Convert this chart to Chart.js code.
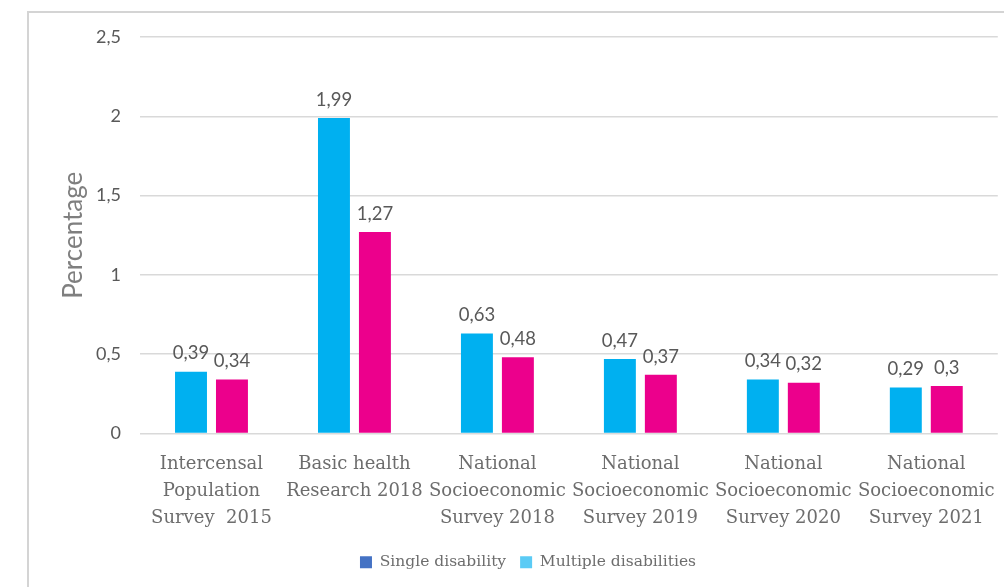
<!DOCTYPE html>
<html>
<head>
<meta charset="utf-8">
<script src="https://cdn.jsdelivr.net/npm/chart.js@4"></script>
<style>
  html, body { margin: 0; padding: 0; background: #fff; }
  #wrap { position: relative; width: 1004px; height: 587px; overflow: hidden; }
  #frame { position: absolute; left: 27px; top: 11px; width: 1100px; height: 700px;
           border-left: 2px solid #d4d4d4; border-top: 2px solid #d4d4d4; pointer-events: none; }
</style>
</head>
<body>
<div id="wrap">
  <canvas id="chart" width="1004" height="587"></canvas>
  <div id="frame"></div>
</div>
<script>
// Chart data
const surveys = [
    ['Intercensal', 'Population', 'Survey  2015'],
    ['Basic health', 'Research 2018'],
    ['National', 'Socioeconomic', 'Survey 2018'],
    ['National', 'Socioeconomic', 'Survey 2019'],
    ['National', 'Socioeconomic', 'Survey 2020'],
    ['National', 'Socioeconomic', 'Survey 2021']
];
const singleDisability = [0.39, 1.99, 0.63, 0.47, 0.34, 0.29];
const multipleDisabilities = [0.34, 1.27, 0.48, 0.37, 0.32, 0.3];
const yTicks = [0, 0.5, 1, 1.5, 2, 2.5];

const commaNum = v => String(v).replace('.', ',');

// value labels above bars
const barValueLabels = {
    id: 'barValueLabels',
    afterDatasetsDraw(chart) {
        const ctx = chart.ctx;
        ctx.save();
        ctx.font = '18.5px Lato';
        ctx.fillStyle = '#595959';
        ctx.textAlign = 'center';
        ctx.textBaseline = 'bottom';
        chart.data.datasets.forEach((ds, i) => {
            chart.getDatasetMeta(i).data.forEach((bar, j) => {
                ctx.fillText(commaNum(ds.data[j]), bar.x, bar.y - 9);
            });
        });
        ctx.restore();
    }
};

const legendColors = ['#4472C4', '#5BCBF5'];

const ctx = document.getElementById('chart').getContext('2d');
const chart = new Chart(ctx, {
    type: 'bar',
    data: {
        labels: surveys,
        datasets: [{
            label: 'Single disability',
            data: singleDisability,
            backgroundColor: '#00B0F0',
            categoryPercentage: 0.573,
            barPercentage: 0.78
        }, {
            label: 'Multiple disabilities',
            data: multipleDisabilities,
            backgroundColor: '#EC008C',
            categoryPercentage: 0.573,
            barPercentage: 0.78
        }]
    },
    options: {
        responsive: false,
        animation: false,
        layout: {
            padding: { left: 56, right: 4, top: 37, bottom: 7 }
        },
        plugins: {
            legend: {
                display: true,
                position: 'bottom',
                labels: {
                    boxWidth: 12,
                    boxHeight: 12,
                    padding: 14,
                    color: '#6d6d6d',
                    font: { family: 'DejaVu Serif', size: 15.5 },
                    generateLabels: function(chart) {
                        return chart.data.datasets.map((ds, i) => ({
                            text: ds.label,
                            fillStyle: legendColors[i],
                            strokeStyle: legendColors[i],
                            lineWidth: 0,
                            fontColor: '#6d6d6d',
                            datasetIndex: i
                        }));
                    }
                }
            },
            tooltip: { enabled: false }
        },
        scales: {
            x: {
                grid: { display: false },
                border: { display: false },
                ticks: {
                    color: '#6d6d6d',
                    padding: 9,
                    maxRotation: 0,
                    autoSkip: false,
                    font: { family: 'DejaVu Serif', size: 18, lineHeight: 1.5 }
                }
            },
            y: {
                min: 0,
                max: 2.5,
                afterFit: function(scale) { scale.width = 84; },
                afterBuildTicks: function(scale) {
                    scale.ticks = yTicks.map(v => ({ value: v }));
                },
                grid: { color: '#d9d9d9', lineWidth: 1.5, drawTicks: false },
                border: { display: false },
                ticks: {
                    color: '#595959',
                    padding: 19,
                    font: { family: 'Lato', size: 18 },
                    callback: function(value) { return commaNum(value); }
                },
                title: {
                    display: true,
                    text: 'Percentage',
                    color: '#7f7f7f',
                    padding: { top: 2, bottom: 0 },
                    font: { family: 'Lato', size: 26 }
                }
            }
        }
    },
    plugins: [barValueLabels]
});
</script>
</body>
</html>
